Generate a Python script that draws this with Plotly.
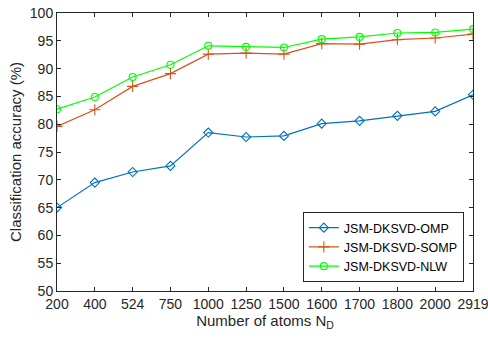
import plotly.graph_objects as go

atoms = ["200", "400", "524", "750", "1000", "1250", "1500", "1600", "1700", "1800", "2000", "2919"]
omp = [65.0, 69.5, 71.4, 72.5, 78.5, 77.7, 77.9, 80.1, 80.6, 81.5, 82.3, 85.3]
somp = [79.6, 82.6, 86.8, 89.1, 92.6, 92.8, 92.6, 94.5, 94.4, 95.2, 95.5, 96.2]
nlw = [82.7, 84.9, 88.5, 90.7, 94.1, 93.9, 93.8, 95.3, 95.7, 96.4, 96.5, 97.1]
names = ["JSM-DKSVD-OMP", "JSM-DKSVD-SOMP", "JSM-DKSVD-NLW"]
colors = ["#0072BD", "#D95319", "#00FF00"]
symbols = ["diamond-open", "cross-thin-open", "circle-open"]
sizes = [7, 8, 7]
yticks = [50, 55, 60, 65, 70, 75, 80, 85, 90, 95, 100]

FONT = "Liberation Sans, Arial, sans-serif"
fig = go.Figure()
for name, vals, c, s, sz in zip(names, [omp, somp, nlw], colors, symbols, sizes):
    fig.add_trace(go.Scatter(
        x=atoms, y=vals, name=name, mode="lines+markers",
        line=dict(color=c, width=1.2),
        marker=dict(symbol=s, size=sz, color=c, line=dict(color=c, width=1.1)),
    ))

axis_common = dict(
    showline=True, linecolor="#262626", linewidth=1, mirror="ticks",
    ticks="inside", ticklen=4, tickcolor="#262626", showgrid=False, zeroline=False,
    automargin=False,
    tickfont=dict(family=FONT, size=14, color="#262626"),
)
fig.update_xaxes(type="category", range=[0, 11], title=dict(text="Number of atoms N<sub>D</sub>",
                 font=dict(family=FONT, size=15, color="#262626"), standoff=2),
                 **axis_common)
fig.update_yaxes(range=[50, 100], tickvals=yticks, title=dict(text="Classification accuracy (%)",
                 font=dict(family=FONT, size=15, color="#262626"), standoff=4),
                 **axis_common)
fig.update_layout(
    width=488, height=338, margin=dict(l=57, r=15, t=13, b=47),
    paper_bgcolor="white", plot_bgcolor="white",
    legend=dict(x=0.591, y=0.284, xanchor="left", yanchor="top", bgcolor="white",
                bordercolor="#262626", borderwidth=1, tracegroupgap=0, itemwidth=30,
                font=dict(family=FONT, size=12.5, color="#000000")),
    showlegend=True,
)
fig.write_html("out.html", config={"displayModeBar": False},
               post_script="document.body.style.margin='0px';")
